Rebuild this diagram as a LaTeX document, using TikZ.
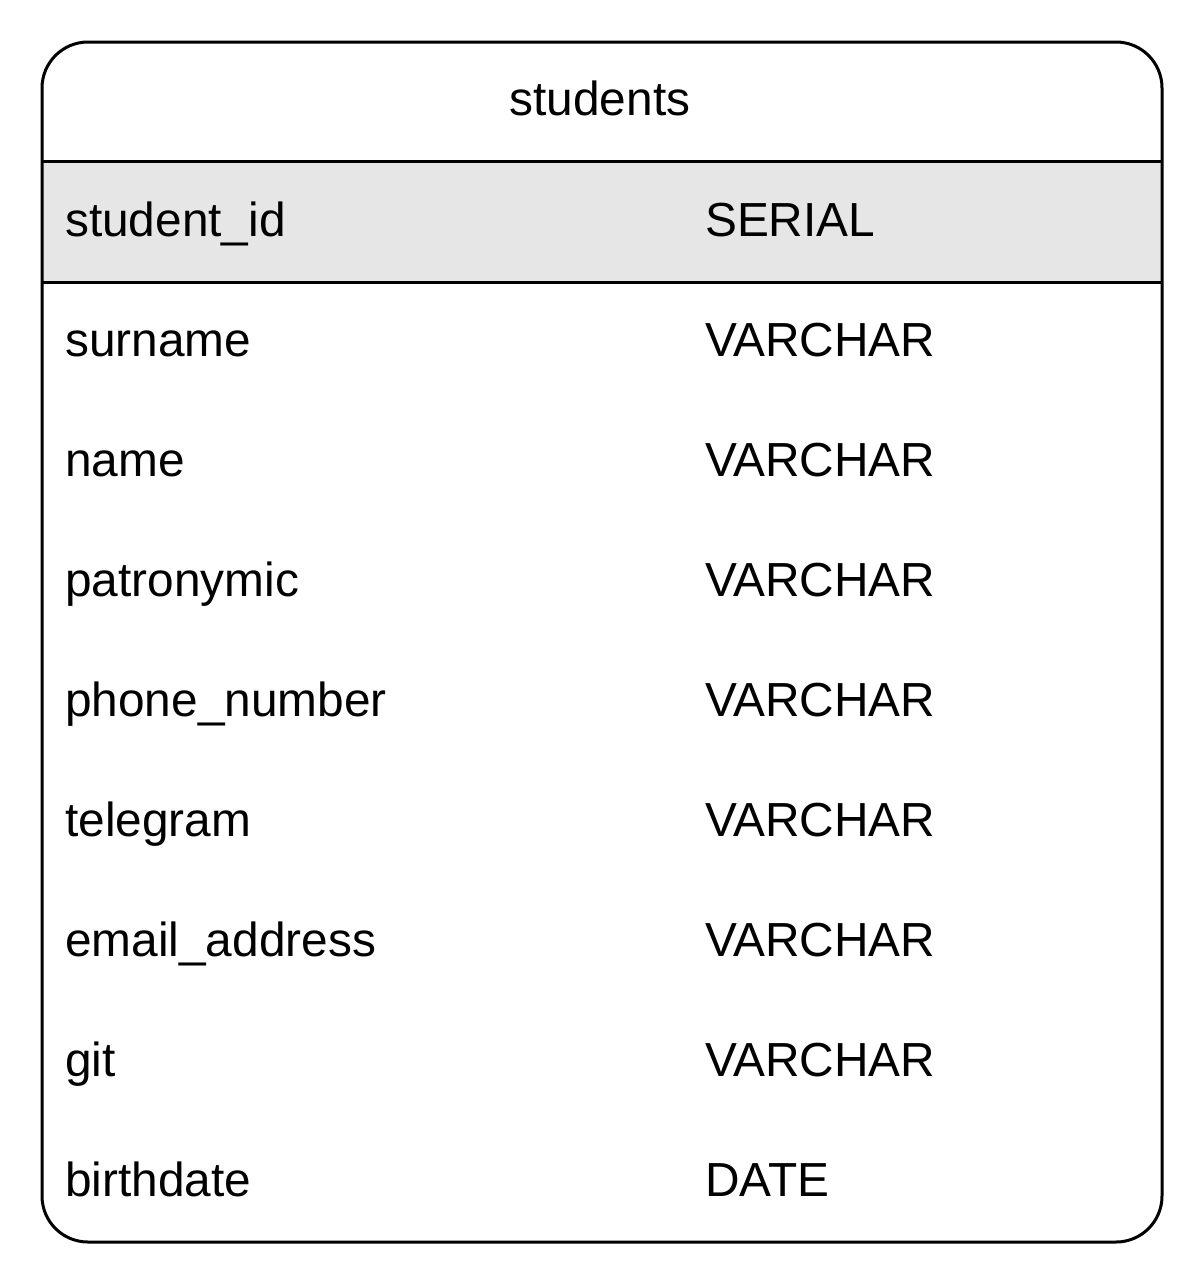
\documentclass[tikz,border=0pt]{standalone}
\usepackage{fontspec}
\setmainfont{Liberation Sans}
\begin{document}
\begin{tikzpicture}[x=1pt,y=-1pt,
  frame/.style={line width=3pt,draw=black},
  field/.style={anchor=base west,inner sep=0pt,font=\fontsize{47.8}{56}\selectfont},
  title/.style={anchor=base,inner sep=0pt,font=\fontsize{47.8}{56}\selectfont}]
  \useasboundingbox (0,0) rectangle (1204,1288);
  % primary key row shading
  \fill[fill={rgb,255:red,230;green,230;blue,230}] (42,161) rectangle (1162,282);
  % table outline and separators
  \draw[frame,rounded corners=46pt] (42,42) rectangle (1162,1242);
  \draw[frame] (42,161) -- (1162,161);
  \draw[frame] (42,282) -- (1162,282);
  % title
  \node[title] (tname) at (600,115) {students};
  % columns
  \foreach \i/\n/\t in {0/student\_id/SERIAL,1/surname/VARCHAR,2/name/VARCHAR,
      3/patronymic/VARCHAR,4/phone\_number/VARCHAR,5/telegram/VARCHAR,
      6/email\_address/VARCHAR,7/git/VARCHAR,8/birthdate/DATE}{
    \node[field] (c\i) at (65,236+120*\i) {\n};
    \node[field] (t\i) at (705,236+120*\i) {\t};
  }
\end{tikzpicture}
\end{document}
